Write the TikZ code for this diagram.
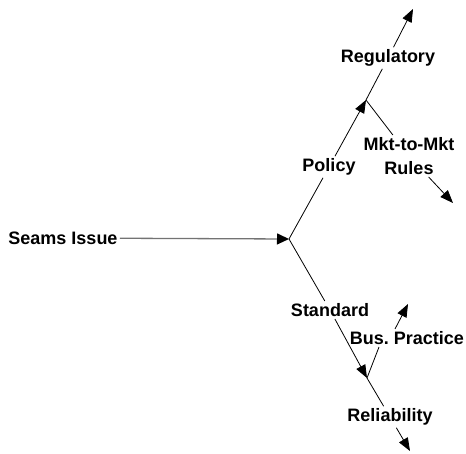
\documentclass[tikz,border=0pt]{standalone}
\usepackage{fontspec}
\setmainfont{Liberation Sans}
\usetikzlibrary{arrows.meta, positioning}

\tikzset{
  label/.style={font=\fontsize{18}{24}\selectfont\bfseries, inner sep=2pt, align=center},
  tip/.style={-{Triangle[length=13pt, width=10pt]}}
}

\begin{document}
\begin{tikzpicture}[x=1pt, y=-1pt, line width=0.8pt]
        \useasboundingbox (0,0) rectangle (466,453);

        % Nodes
        \node [label] (seams)    at (63, 238)  {Seams Issue};
        \node [label] (policy)   at (329, 167) {Policy};
        \node [label] (reg)      at (388, 58)  {Regulatory};
        \node [label] (mkt)      at (409, 156) {Mkt-to-Mkt\\Rules};
        \node [label] (standard) at (330, 310) {Standard};
        \node [label] (bus)      at (407, 338) {Bus.\ Practice};
        \node [label] (rel)      at (390, 417) {Reliability};

        \coordinate (J1) at (289, 239);
        \coordinate (J2) at (366, 100);
        \coordinate (J3) at (367, 378);
        \coordinate (regtip) at (413, 9);
        \coordinate (mkttip) at (453, 203);
        \coordinate (bustip) at (408, 304);
        \coordinate (reltip) at (410, 451);

        % Edges
        \draw[draw=black!55, line width=1.3pt, {Triangle[length=12pt, width=11pt, black]}-] (J1) -- (seams);
        \draw (J1) -- (policy);
        \draw[tip] (policy) -- (J2);
        \draw (J2) -- (reg);
        \draw[tip] (reg) -- (regtip);
        \draw (J2) -- (mkt);
        \draw[tip] (mkt) -- (mkttip);
        \draw (J1) -- (standard);
        \draw[tip] (standard) -- (J3);
        \draw (J3) -- ([xshift=-28pt]bus.south);
        \draw[tip] ([xshift=-12pt]bus.north) -- (bustip);
        \draw (J3) -- (rel);
        \draw[tip] (rel) -- (reltip);

      \end{tikzpicture}
\end{document}
